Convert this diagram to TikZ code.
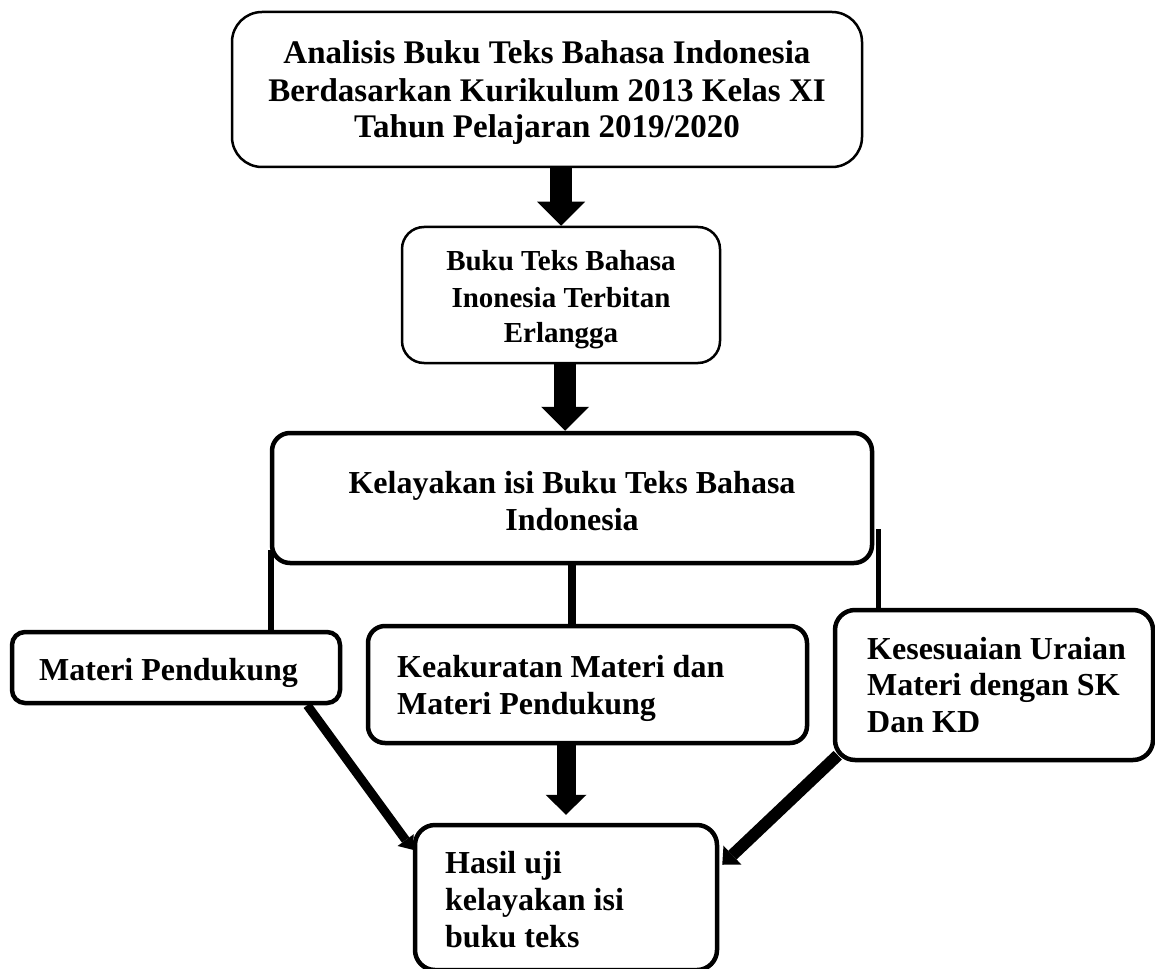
\documentclass[tikz,border=0pt]{standalone}
\usepackage{fontspec}
\setmainfont{Liberation Serif}
\usetikzlibrary{arrows.meta,calc}
\tikzset{
  box/.style={draw=black, rounded corners=#1, inner sep=0pt},
  thinbox/.style={box=#1, line width=2.5pt},
  thickbox/.style={box=#1, line width=4.5pt},
  tbig/.style={font=\fontsize{33}{33}\selectfont\bfseries, inner sep=0pt, anchor=base},
  tmid/.style={font=\fontsize{29}{29}\selectfont\bfseries, inner sep=0pt, anchor=base},
  tc/.style={font=\fontsize{32}{32}\selectfont\bfseries, inner sep=0pt, anchor=base},
  tl/.style={font=\fontsize{32}{32}\selectfont\bfseries, inner sep=0pt, anchor=base west},
  blockarrow/.style={line width=22pt, -{Triangle[length=24pt,width=48pt,line width=0pt]}},
  smallblock/.style={line width=19pt, -{Triangle[length=20pt,width=41pt,line width=0pt]}},
  diagl/.style={line width=9pt, -{Triangle[length=12pt,width=20pt,line width=0pt]}},
  diagr/.style={line width=12pt, -{Triangle[length=14pt,width=26pt,line width=0pt]}},
  conn/.style={line width=#1},
}
\begin{document}
\begin{tikzpicture}[x=1pt,y=-1pt]
\useasboundingbox (0,0) rectangle (1155,968);
\clip (0,0) rectangle (1155,968);
\fill[white] (0,0) rectangle (1155,968);

% boxes
\node[thinbox=30pt, minimum width=630pt, minimum height=155pt] (top) at (547,89.5) {};
\node[thinbox=22pt, minimum width=318pt, minimum height=136pt] (box2) at (561,295) {};
\node[thickbox=18pt, minimum width=600pt, minimum height=130pt] (k3) at (572,498) {};
\node[thickbox=13pt, minimum width=328pt, minimum height=71pt] (mat) at (176,667.5) {};
\node[thickbox=17pt, minimum width=439pt, minimum height=117pt] (keak) at (587.5,684.5) {};
\node[thickbox=20pt, minimum width=318pt, minimum height=150pt] (kes) at (994,685) {};
\node[thickbox=20pt, minimum width=302pt, minimum height=145pt] (hasil) at (566,897.5) {};

% texts
\node[tbig] (t1a) at (547,64) {Analisis Buku Teks Bahasa Indonesia};
\node[tbig] (t1b) at (547,102) {Berdasarkan Kurikulum 2013 Kelas XI};
\node[tbig] (t1c) at (547,138) {Tahun Pelajaran 2019/2020};

\node[tmid] (t2a) at (561,270) {Buku Teks Bahasa};
\node[tmid] (t2b) at (561,307) {Inonesia Terbitan};
\node[tmid] (t2c) at (561,342) {Erlangga};

\node[tc] (t3a) at (572,493) {Kelayakan isi Buku Teks Bahasa};
\node[tc] (t3b) at (572,530) {Indonesia};

\node[tl] (tm) at (39,680) {Materi Pendukung};

\node[tl] (tka) at (397,677) {Keakuratan Materi dan};
\node[tl] (tkb) at (397,714) {Materi Pendukung};

\node[tl] (tsa) at (867,659) {Kesesuaian Uraian};
\node[tl] (tsb) at (867,695) {Materi dengan SK};
\node[tl] (tsc) at (867,732) {Dan KD};

\node[tl] (tha) at (445,873) {Hasil uji};
\node[tl] (thb) at (445,910) {kelayakan isi};
\node[tl] (thc) at (445,947) {buku teks};

% block arrows
\draw[blockarrow] (box2.north |- top.south) -- (box2.north);
\coordinate (a2) at ([xshift=4pt]box2.south);
\draw[blockarrow] (a2) -- (a2 |- k3.north);
\draw[smallblock] (hasil.north |- keak.south) -- ([yshift=8pt]hasil.north);

% connectors from k3
\coordinate (l1) at ([xshift=1pt,yshift=15pt]k3.south west);
\draw[conn=5.5pt] (l1) -- (l1 |- mat.north);
\draw[conn=8pt] (k3.south) -- (k3.south |- keak.north);
\coordinate (r1) at ([xshift=4pt,yshift=36pt]k3.south east);
\draw[conn=5pt] (r1) -- (r1 |- kes.north);

% diagonal arrows
\draw[diagl] ([xshift=-35pt]mat.south east) -- ([yshift=-27pt]hasil.north west);
\draw[diagr] ([xshift=5pt,yshift=7pt]kes.south west) -- ([xshift=3pt,yshift=-42pt]hasil.north east);
\end{tikzpicture}
\end{document}
